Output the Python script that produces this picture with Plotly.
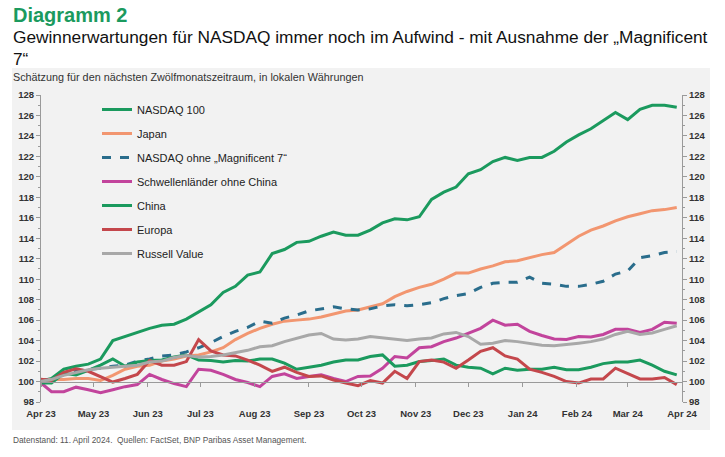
import plotly.graph_objects as go
import pandas as pd

# weekly observations (Fridays), index = 100 at start
dates = pd.date_range("2023-03-31", periods=53, freq="7D")

nasdaq_100 = [100.0, 100.3, 101.2, 101.5, 101.7, 102.2, 104.0, 104.4, 104.8, 105.2,
              105.5, 105.6, 106.1, 106.8, 107.5, 108.7, 109.3, 110.4, 110.7, 112.5,
              112.9, 113.6, 113.7, 114.2, 114.6, 114.3, 114.3, 114.8, 115.5, 115.9,
              115.8, 116.1, 117.8, 118.5, 119.0, 120.3, 120.7, 121.5, 121.9, 121.6,
              121.9, 121.9, 122.5, 123.4, 124.1, 124.7, 125.5, 126.3, 125.6, 126.6,
              127.0, 127.0, 126.8]

japan = [100.2, 100.2, 100.2, 100.3, 100.3, 100.1, 100.6, 101.2, 101.5, 101.6,
         102.0, 102.2, 102.5, 102.6, 102.9, 103.3, 104.1, 104.7, 105.2, 105.6,
         105.9, 106.0, 106.1, 106.3, 106.6, 106.9, 107.0, 107.3, 107.6, 108.3,
         108.8, 109.2, 109.5, 110.0, 110.6, 110.6, 111.0, 111.3, 111.7, 111.8,
         112.1, 112.4, 112.6, 113.4, 114.2, 114.8, 115.2, 115.7, 116.1, 116.4,
         116.7, 116.8, 117.0]

nasdaq_ex_m7 = [100.0, 100.3, 100.7, 101.0, 101.2, 101.3, 101.5, 101.6, 102.0, 102.2,
                102.5, 102.6, 102.9, 103.3, 103.8, 104.4, 104.9, 105.3, 105.9, 105.7,
                106.2, 106.5, 106.9, 107.1, 107.3, 107.1, 107.0, 107.1, 107.4, 107.5,
                107.4, 107.5, 107.7, 108.1, 108.4, 108.6, 109.2, 109.6, 109.7, 109.7,
                110.2, 109.6, 109.5, 109.3, 109.3, 109.5, 109.8, 110.5, 110.8, 112.1,
                112.3, 112.6, 112.7]

em_ex_china = [100.0, 99.0, 99.0, 99.45, 99.2, 98.9, 99.2, 99.5, 99.7, 100.7,
               100.2, 99.8, 99.5, 101.2, 101.1, 100.7, 100.2, 99.9, 99.5, 100.5,
               100.75, 100.3, 100.5, 100.65, 100.3, 100.0, 100.5, 100.55, 101.3, 102.45,
               102.3, 103.3, 103.4, 103.9, 104.25, 104.7, 105.2, 106.0, 105.5, 105.6,
               104.9, 104.5, 104.15, 104.1, 104.4, 104.35, 104.6, 105.1, 105.1, 104.8,
               105.1, 105.8, 105.7]

china = [99.85, 99.85, 100.8, 100.65, 101.1, 101.6, 102.2, 101.5, 101.9, 102.05,
         102.1, 102.4, 102.6, 102.1, 102.05, 101.9, 102.05, 102.0, 102.2, 102.2,
         101.8, 101.2, 101.4, 101.6, 101.9, 102.1, 102.1, 102.45, 102.6, 101.5,
         101.6, 101.95, 102.05, 102.2, 101.6, 101.4, 101.3, 100.75, 101.3, 101.1,
         101.2, 101.2, 101.4, 101.15, 101.15, 101.4, 101.75, 101.9, 101.9, 102.1,
         101.6, 101.0, 100.65]

europe = [100.25, 100.1, 100.9, 101.25, 101.0, 100.5, 99.95, 100.3, 100.7, 102.05,
          101.6, 101.6, 101.95, 104.1, 103.0, 102.6, 102.5, 102.1, 101.6, 101.0,
          101.4, 100.9, 100.5, 100.55, 100.15, 99.85, 99.6, 100.1, 99.85, 101.0,
          100.3, 101.95, 102.1, 101.9, 101.3, 102.1, 102.95, 103.3, 102.5, 102.2,
          101.2, 100.9, 100.5, 100.0, 99.85, 100.25, 100.25, 101.3, 100.75, 100.25,
          100.25, 100.4, 99.7]

russell_value = [100.0, 100.2, 100.6, 100.9, 101.15, 101.3, 101.4, 101.5, 101.6, 101.9,
                 102.0, 102.35, 102.55, 102.4, 102.45, 102.6, 102.8, 103.05, 103.4, 103.5,
                 103.9, 104.25, 104.55, 104.7, 104.15, 104.05, 104.15, 104.4, 104.25, 104.15,
                 104.0, 104.15, 104.25, 104.65, 104.8, 104.4, 103.65, 103.75, 104.0, 103.9,
                 103.75, 103.55, 103.5, 103.6, 103.75, 103.9, 104.15, 104.6, 104.9, 104.6,
                 104.75, 105.1, 105.45]

series = [
    ("NASDAQ 100", nasdaq_100, "#1b9a5e", "solid"),
    ("Japan", japan, "#f29670", "solid"),
    ("NASDAQ ohne „Magnificent 7“", nasdaq_ex_m7, "#2a6d8c", "dash"),
    ("Schwellenländer ohne China", em_ex_china, "#c2449c", "solid"),
    ("China", china, "#1b9a5e", "solid"),
    ("Europa", europe, "#c4474c", "solid"),
    ("Russell Value", russell_value, "#a8a8a8", "solid"),
]

fig = go.Figure()
for name, vals, color, dash in series:
    fig.add_trace(go.Scatter(
        x=dates, y=vals, name=name, mode="lines", legendgroup=name,
        line=dict(color=color, width=3, dash=dash), hoverinfo="skip",
    ))

# invisible helper trace so the axis at 100 and the right axis get drawn
fig.add_trace(go.Scatter(x=dates, y=nasdaq_100, xaxis="x2", yaxis="y2",
                         mode="lines", line=dict(width=0), opacity=0,
                         showlegend=False, hoverinfo="skip"))

axis_col = "#9a9a9a"
tick_font = dict(family="Liberation Sans", size=9.5, color="#333", weight=700)
x_range = ["2023-04-01", "2024-04-01"]
y_range = [98, 128]

W, H = 725, 457
L, R, T, B = 41, 682, 95, 402   # plot area in page pixels


def px(x):
    return (x - L) / (R - L)


def py(y):
    return (B - y) / (B - T)


fig.update_layout(
    width=W, height=H,
    margin=dict(l=L, r=W - R, t=T, b=H - B),
    paper_bgcolor="white",
    plot_bgcolor="rgba(0,0,0,0)",
    font=dict(family="Liberation Sans", color="#222"),
    xaxis=dict(type="date", range=x_range, dtick="M1", tick0="2023-04-01",
               tickformat="%b %y", showgrid=False, showline=False, zeroline=False,
               ticks="outside", ticklen=3, tickcolor="rgba(0,0,0,0)",
               tickfont=tick_font),
    xaxis2=dict(type="date", range=x_range, dtick="M1", tick0="2023-04-01",
                overlaying="x", anchor="free",
                position=(100 - y_range[0]) / (y_range[1] - y_range[0]),
                showline=True, linecolor=axis_col, linewidth=1, ticks="outside",
                ticklen=4, tickcolor=axis_col, showticklabels=False, showgrid=False),
    yaxis=dict(range=y_range, dtick=2, showgrid=False, zeroline=False,
               showline=True, linecolor=axis_col, ticks="outside", ticklen=4,
               tickcolor=axis_col, tickfont=tick_font,
               minor=dict(dtick=1, ticks="outside", ticklen=2, tickcolor=axis_col)),
    yaxis2=dict(range=y_range, dtick=2, overlaying="y", side="right", anchor="x2",
                showgrid=False, zeroline=False, showline=True, linecolor=axis_col,
                ticks="outside", ticklen=4, tickcolor=axis_col, tickfont=tick_font,
                minor=dict(dtick=1, ticks="outside", ticklen=2, tickcolor=axis_col)),
    legend=dict(x=px(97), y=py(95), xanchor="left", yanchor="top",
                bgcolor="rgba(0,0,0,0)", tracegroupgap=5,
                font=dict(family="Liberation Sans", size=11, color="#222")),
    showlegend=True,
)

# grey panel behind chart
fig.add_shape(type="rect", xref="paper", yref="paper", layer="below",
              x0=px(12), x1=px(710), y0=py(430), y1=py(68),
              fillcolor="#f2f2f2", line=dict(width=0))

notes = [
    ("<b>Diagramm 2</b>", 15, 20, "#1b9a5e"),
    ("Gewinnerwartungen für NASDAQ immer noch im Aufwind - mit Ausnahme der „Magnificent<br>7“",
     48, 17.3, "#111"),
    ("Schätzung für den nächsten Zwölfmonatszeitraum, in lokalen Währungen", 77, 10.8, "#333"),
    ("Datenstand: 11. April 2024.  Quellen: FactSet, BNP Paribas Asset Management.", 440, 8.3, "#555"),
]
for text, ypix, size, color in notes:
    fig.add_annotation(text=text, xref="paper", yref="paper", x=px(12), y=py(ypix),
                       xanchor="left", yanchor="middle", align="left", showarrow=False,
                       borderpad=0,
                       font=dict(family="Liberation Sans", size=size, color=color))

# drop the browser's default 8px body margin so the figure fills the window
fig.write_html("out.html", config={"displayModeBar": False},
               post_script="document.body.style.margin = '0';")
